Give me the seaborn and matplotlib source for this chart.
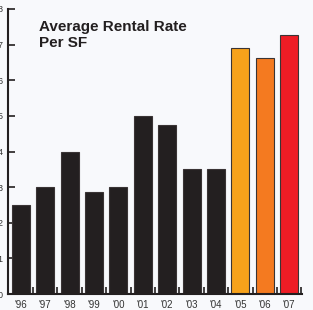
import pandas as pd
import seaborn as sns
import matplotlib.pyplot as plt
from matplotlib.ticker import FixedLocator

years = ["'96", "'97", "'98", "'99", "'00", "'01", "'02", "'03", "'04", "'05", "'06", "'07"]
rates = [2.5, 3.0, 4.0, 2.87, 3.0, 5.0, 4.75, 3.5, 3.5, 6.9, 6.63, 7.27]
bar_colors = ["#231f20"] * 9 + ["#f7a21b", "#f47a20", "#ee1c25"]

df = pd.DataFrame({"Year": years, "Rate": rates})

sns.set_style("white")
plt.rcParams['font.family'] = ['Liberation Sans', 'DejaVu Sans']

fig = plt.figure(figsize=(3.13, 3.10), dpi=100)
fig.patch.set_facecolor("#f8f9fc")
ax = fig.add_axes([8 / 313, 16 / 310, 294 / 313, 285 / 310])
ax.set_facecolor("#f8f9fc")

sns.barplot(data=df, x="Year", y="Rate", hue="Year", palette=bar_colors, saturation=1,
            width=0.74, edgecolor="#3a3435", linewidth=0.8, legend=False, ax=ax)

ax.set_xlim(-0.53, 11.53)
ax.set_ylim(0, 8)
ax.set_yticks(range(0, 9))
ax.set_xlabel("")
ax.set_ylabel("")

for s in ["top", "right"]:
    ax.spines[s].set_visible(False)
for s in ["left", "bottom"]:
    ax.spines[s].set_color("#231f20")
    ax.spines[s].set_linewidth(1.5)

ax.tick_params(axis="y", direction="in", length=5, width=1.2, color="#231f20",
               labelsize=6.5, pad=4, labelcolor="#333333", left=True)
ax.tick_params(axis="x", which="major", length=0, labelsize=7, pad=4, labelcolor="#333333")
ax.xaxis.set_minor_locator(FixedLocator([i + 0.5 for i in range(12)]))
ax.tick_params(axis="x", which="minor", direction="in", length=5, width=1.2,
               color="#231f20", bottom=True)

ax.text(0.105, 0.96, "Average Rental Rate\nPer SF", transform=ax.transAxes,
        fontsize=11, fontweight="bold", color="#231f20", va="top", ha="left",
        linespacing=1.1)

fig.savefig("out.png", dpi=100, facecolor=fig.get_facecolor())
